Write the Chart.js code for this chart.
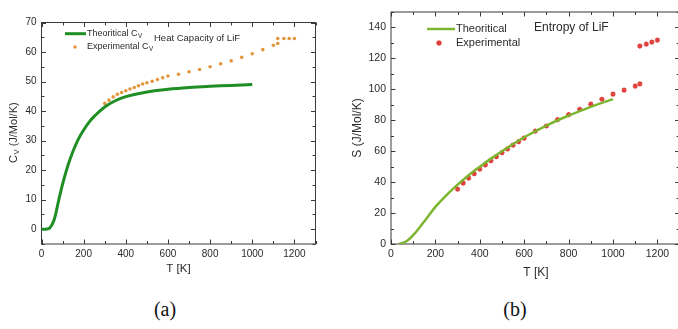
<!DOCTYPE html>
<html>
<head>
<meta charset="utf-8">
<script src="https://cdn.jsdelivr.net/npm/chart.js@4.4.1/dist/chart.umd.min.js"></script>
<style>
html, body { margin: 0; padding: 0; background: #fff; width: 678px; height: 329px; overflow: hidden; position: relative; }
canvas { position: absolute; top: 0; }
#heatChart { left: 0; }
#entropyChart { left: 340px; }
.cap { position: absolute; top: 298px; line-height: 22px; font-family: "Liberation Serif", "Times New Roman", serif; font-size: 20px; color: #111; transform: translateX(-50%); }
</style>
</head>
<body>
<canvas id="heatChart" width="335" height="290"></canvas>
<canvas id="entropyChart" width="345" height="290"></canvas>
<div class="cap" style="left:165px">(a)</div>
<div class="cap" style="left:515px">(b)</div>
<script>
// temperature axis
const tTicks = [0, 200, 400, 600, 800, 1000, 1200];

// (a) heat capacity of LiF, J/Mol/K
const cvTicks = [0, 10, 20, 30, 40, 50, 60, 70];
const cvTheoryT = [0, 20, 40, 60, 80, 100, 125, 150, 175, 200, 225, 250, 300, 350, 400, 500, 600, 700, 800, 900, 1000];
const cvTheory = [0, 0.02, 0.5, 3.2, 9.3, 15.3, 21.5, 26.5, 30.5, 33.6, 36.2, 38.2, 41.4, 43.5, 44.9, 46.5, 47.4, 48.0, 48.4, 48.7, 49.0];
const cvExpT = [300, 320, 340, 360, 380, 400, 420, 440, 460, 480, 500, 525, 550, 575, 600, 650, 700, 750, 800, 850, 900, 950, 1000, 1050, 1100, 1121, 1121, 1150, 1175, 1200];
const cvExp = [42.6, 43.7, 44.8, 45.7, 46.3, 46.9, 47.5, 48.0, 48.6, 49.2, 49.6, 50.1, 50.7, 51.3, 51.9, 52.5, 53.3, 54.1, 55.0, 56.0, 57.0, 58.2, 59.4, 60.8, 62.3, 62.9, 64.6, 64.6, 64.6, 64.6];

// (b) entropy of LiF, J/Mol/K
const sTicks = [0, 20, 40, 60, 80, 100, 120, 140];
const sTheoryT = [35, 60, 80, 100, 125, 150, 175, 200, 250, 300, 350, 400, 450, 500, 600, 700, 800, 900, 1000];
const sTheory = [0, 1.0, 2.9, 5.7, 10.0, 14.6, 19.4, 24.0, 31.6, 38.4, 44.5, 50.0, 55.2, 60.0, 69.0, 76.6, 83.0, 88.7, 93.7];
const sExpT = [300, 325, 350, 375, 400, 425, 450, 475, 500, 525, 550, 575, 600, 650, 700, 750, 800, 850, 900, 950, 1000, 1050, 1100, 1121, 1121, 1150, 1175, 1200];
const sExp = [35.5, 39.4, 42.6, 45.5, 48.4, 51.2, 53.9, 56.5, 59.1, 61.5, 63.9, 66.2, 68.4, 73.0, 76.3, 80.4, 83.6, 87.1, 90.4, 93.6, 96.9, 99.5, 102.1, 103.5, 128.0, 129.2, 130.5, 131.8];

const FONT = '"Liberation Sans", Arial, sans-serif';
const TEXT = '#2a2a2a';

function xy(xs, ys) {
    return xs.map((x, i) => ({ x: x, y: ys[i] }));
}

// text with an optional subscript part
function subText(ctx, x, y, main, sub, size) {
    ctx.font = size + 'px ' + FONT;
    ctx.fillText(main, x, y);
    if (!sub) return x + ctx.measureText(main).width;
    const w = ctx.measureText(main).width;
    ctx.font = (size * 0.7) + 'px ' + FONT;
    ctx.fillText(sub, x + w + 0.5, y + size * 0.3);
    return x + w + 0.5 + ctx.measureText(sub).width;
}

function axis(ticks, min, max, size, pad, fitSize, horizontal) {
    return {
        type: 'linear',
        min: min,
        max: max,
        grid: { display: false, drawTicks: false },
        border: { display: false },
        afterBuildTicks: s => { s.ticks = ticks.map(v => ({ value: v })); },
        afterFit: s => { if (horizontal) s.height = fitSize; else s.width = fitSize; },
        ticks: {
            font: { family: FONT, size: size }, color: TEXT, padding: pad,
            autoSkip: false, maxRotation: 0,
            callback: v => String(v)
        }
    };
}

// box frame with inward major/minor ticks on all four sides
function framePlugin(xMinor, yMinor) {
    return {
        id: 'frame',
        beforeDatasetsDraw(chart) {
            const { ctx, chartArea: a, scales: { x, y } } = chart;
            ctx.save();
            ctx.strokeStyle = '#3a3a3a';
            ctx.lineWidth = 1;
            ctx.strokeRect(a.left, a.top, a.right - a.left, a.bottom - a.top);
            ctx.beginPath();
            xMinor.forEach(v => {
                const px = Math.round(x.getPixelForValue(v)) + 0.5;
                const len = x.ticks.some(t => t.value === v) ? 4.5 : 3;
                ctx.moveTo(px, a.bottom); ctx.lineTo(px, a.bottom - len);
                ctx.moveTo(px, a.top); ctx.lineTo(px, a.top + len);
            });
            yMinor.forEach(v => {
                const py = Math.round(y.getPixelForValue(v)) + 0.5;
                const len = y.ticks.some(t => t.value === v) ? 4.5 : 3;
                ctx.moveTo(a.left, py); ctx.lineTo(a.left + len, py);
                ctx.moveTo(a.right, py); ctx.lineTo(a.right - len, py);
            });
            ctx.stroke();
            ctx.restore();
        }
    };
}

function range(from, to, step) {
    const out = [];
    for (let v = from; v <= to; v += step) out.push(v);
    return out;
}

// ---------- (a) heat capacity ----------
new Chart(document.getElementById('heatChart'), {
    type: 'line',
    data: {
        datasets: [{
            label: 'Theoritical Cv',
            data: xy(cvTheoryT, cvTheory),
            borderColor: '#1f8f24',
            borderWidth: 3,
            pointRadius: 0,
            tension: 0.4,
            fill: false
        }, {
            label: 'Experimental Cv',
            data: xy(cvExpT, cvExp),
            showLine: false,
            pointRadius: 1.8,
            pointBorderWidth: 0,
            pointBackgroundColor: '#e4963f',
            pointBorderColor: '#e4963f'
        }]
    },
    options: {
        responsive: false,
        animation: false,
        layout: { padding: { left: 0, top: 22.5, right: 19.5, bottom: 0 } },
        scales: {
            x: axis(tTicks, 0, 1300, 10, 4, 46, true),
            y: axis(cvTicks, -5, 70, 10, 5, 41.5, false)
        },
        plugins: { legend: { display: false }, tooltip: { enabled: false } }
    },
    plugins: [framePlugin(range(0, 1300, 100), range(-5, 70, 5)), {
        id: 'labels',
        afterDraw(chart) {
            const ctx = chart.ctx;
            ctx.save();
            ctx.fillStyle = TEXT;
            ctx.textBaseline = 'middle';
            ctx.textAlign = 'left';
            // legend
            ctx.strokeStyle = '#1f8f24';
            ctx.lineWidth = 3;
            ctx.beginPath(); ctx.moveTo(65, 33.7); ctx.lineTo(86, 33.7); ctx.stroke();
            subText(ctx, 87, 33.7, 'Theoritical C', 'V', 9);
            ctx.fillStyle = '#e4963f';
            ctx.beginPath(); ctx.arc(75, 47, 1.8, 0, Math.PI * 2); ctx.fill();
            ctx.fillStyle = TEXT;
            subText(ctx, 87, 47, 'Experimental C', 'V', 9);
            // inner title
            ctx.font = '9.5px ' + FONT;
            ctx.fillText('Heat Capacity of LiF', 154, 38);
            // axis titles
            ctx.textAlign = 'center';
            ctx.font = '11.5px ' + FONT;
            ctx.fillText('T [K]', 178.5, 269);
            ctx.translate(13.5, 133);
            ctx.rotate(-Math.PI / 2);
            ctx.textAlign = 'left';
            ctx.font = '11px ' + FONT;
            const w = ctx.measureText('C (J/Mol/K)').width + 5;
            const end = subText(ctx, -w / 2, 0, 'C', 'V', 11);
            ctx.font = '11px ' + FONT;
            ctx.fillText(' (J/Mol/K)', end, 0);
            ctx.restore();
        }
    }]
});

// ---------- (b) entropy ----------
new Chart(document.getElementById('entropyChart'), {
    type: 'line',
    data: {
        datasets: [{
            label: 'Theoritical',
            data: xy(sTheoryT, sTheory),
            borderColor: '#7cb630',
            borderWidth: 2.5,
            pointRadius: 0,
            tension: 0.4,
            fill: false
        }, {
            label: 'Experimental',
            data: xy(sExpT, sExp),
            showLine: false,
            pointStyle: 'star',
            pointRadius: 2.6,
            pointBorderWidth: 1.4,
            pointBackgroundColor: '#e0413c',
            pointBorderColor: '#e0413c'
        }]
    },
    options: {
        responsive: false,
        animation: false,
        layout: { padding: { left: 0, top: 12, right: 5, bottom: 0 } },
        scales: {
            x: axis(tTicks, 0, 1300, 10.5, 4, 46, true),
            y: axis(sTicks, 0, 150, 10.5, 5, 51, false)
        },
        plugins: { legend: { display: false }, tooltip: { enabled: false } }
    },
    plugins: [framePlugin(range(0, 1300, 100), range(0, 150, 10)), {
        id: 'labels',
        afterDraw(chart) {
            const ctx = chart.ctx;
            ctx.save();
            ctx.fillStyle = TEXT;
            ctx.textBaseline = 'middle';
            ctx.textAlign = 'left';
            // legend
            ctx.strokeStyle = '#7cb630';
            ctx.lineWidth = 2.5;
            ctx.beginPath(); ctx.moveTo(87, 29); ctx.lineTo(115, 29); ctx.stroke();
            ctx.font = '11px ' + FONT;
            ctx.fillText('Theoritical', 116, 29);
            ctx.fillText('Experimental', 116, 43);
            ctx.fillStyle = '#e0413c';
            ctx.strokeStyle = '#e0413c';
            Chart.helpers.drawPoint(ctx, { pointStyle: 'star', radius: 2.6, borderWidth: 1.4, rotation: 0 }, 99, 43);
            ctx.fillStyle = TEXT;
            // inner title
            ctx.font = '12px ' + FONT;
            ctx.fillText('Entropy of LiF', 194, 28);
            // axis titles
            ctx.textAlign = 'center';
            ctx.fillText('T [K]', 196, 272.5);
            ctx.translate(18, 128);
            ctx.rotate(-Math.PI / 2);
            ctx.fillText('S (J/Mol/K)', 0, 0);
            ctx.restore();
        }
    }]
});
</script>
</body>
</html>
